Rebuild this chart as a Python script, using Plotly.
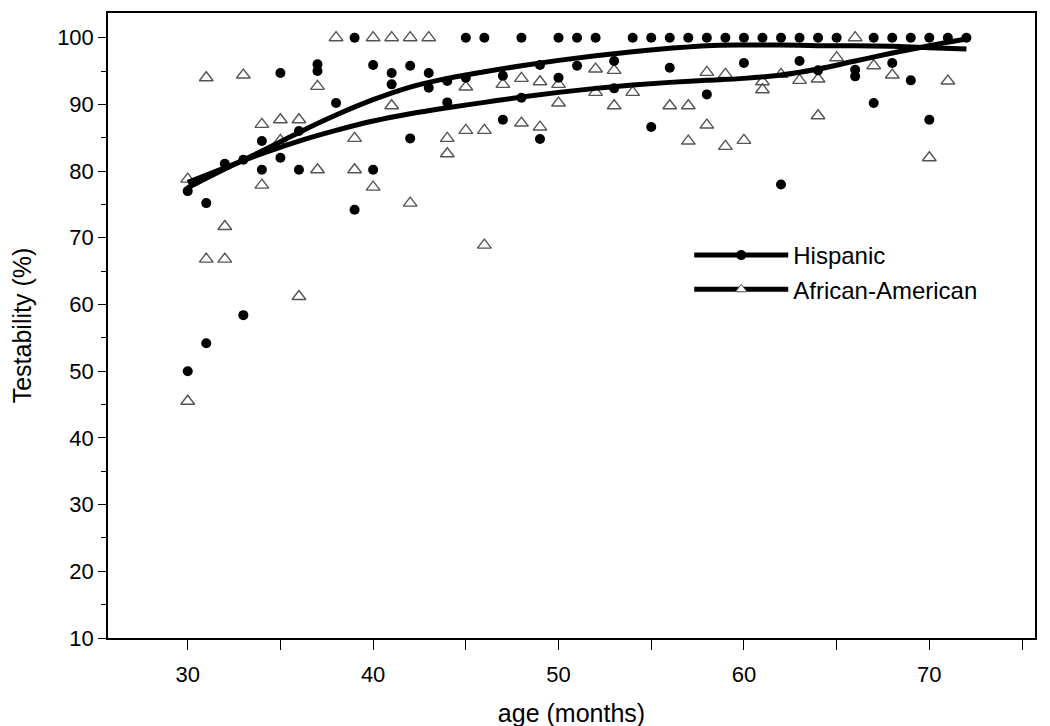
import plotly.graph_objects as go

# ---- Data ----
# Hispanic individual points (age in months, testability %)
hisp_age = [30, 30, 31, 31, 32, 33, 33, 34, 34, 35, 35, 36, 36, 37, 37, 38, 39, 39,
            40, 40, 41, 41, 42, 42, 43, 43, 44, 44, 45, 45, 46, 47, 47, 48, 48, 49, 49,
            50, 50, 51, 51, 52, 53, 53, 54, 55, 55, 56, 56, 57, 58, 58, 59, 60, 60,
            61, 62, 62, 63, 63, 64, 64, 65, 66, 66, 67, 67, 68, 68, 69, 69, 70, 70,
            71, 72]
hisp_val = [77.0, 50.0, 75.2, 54.2, 81.1, 81.7, 58.4, 84.5, 80.2, 94.7, 82.0, 86.0, 80.2,
            96.0, 95.0, 90.2, 100, 74.2, 95.9, 80.2, 94.7, 93.0, 95.8, 84.9, 94.7, 92.5,
            93.5, 90.3, 100, 94.0, 100, 94.3, 87.7, 100, 91.0, 95.9, 84.8, 100, 94.0,
            100, 95.8, 100, 96.5, 92.4, 100, 100, 86.6, 100, 95.5, 100, 100, 91.5, 100,
            100, 96.2, 100, 100, 78.0, 100, 96.5, 100, 95.1, 100, 95.2, 94.2, 100, 90.2,
            100, 96.2, 100, 93.6, 100, 87.7, 100, 100]

# African-American individual points
aa_age = [30, 30, 31, 31, 32, 32, 33, 34, 34, 35, 35, 36, 36, 37, 37, 38, 39, 39,
          40, 40, 41, 41, 42, 42, 43, 44, 44, 45, 45, 46, 46, 47, 48, 48, 49, 49,
          50, 50, 52, 52, 53, 53, 54, 56, 57, 57, 58, 58, 59, 59, 60, 61, 61, 62,
          63, 64, 64, 65, 66, 67, 68, 70, 71]
aa_val = [78.8, 45.5, 94.0, 66.8, 71.7, 66.8, 94.4, 87.0, 77.9, 87.7, 84.6, 87.7, 61.2,
          92.7, 80.2, 100, 84.9, 80.2, 100, 77.6, 100, 89.8, 100, 75.2, 100, 84.9, 82.6,
          92.6, 86.1, 86.1, 68.9, 93.0, 93.9, 87.2, 93.4, 86.6, 93.0, 90.2, 95.3, 91.8,
          95.1, 89.8, 91.8, 89.8, 89.8, 84.5, 94.8, 86.9, 94.5, 83.7, 84.6, 93.4, 92.2,
          94.5, 93.6, 93.8, 88.3, 97.0, 100, 95.8, 94.4, 82.0, 93.5]

# Smoothed trend curves
fit_age = [30, 32, 34, 36, 38, 40, 42, 44, 46, 48, 50, 52, 54, 56, 58, 60, 62, 64,
           66, 68, 70, 72]
hisp_fit = [77.5, 80.3, 83.0, 85.8, 88.4, 90.7, 92.6, 93.9, 94.9, 95.8, 96.6, 97.3,
            97.9, 98.4, 98.8, 98.9, 98.9, 98.8, 98.8, 98.7, 98.5, 98.3]
aa_fit = [78.3, 80.5, 82.6, 84.5, 86.1, 87.5, 88.6, 89.5, 90.3, 91.1, 91.8, 92.4,
          92.9, 93.3, 93.6, 93.9, 94.4, 95.3, 96.5, 97.7, 98.8, 99.8]

series_names = ["Hispanic", "African-American"]
x_ticks = [30, 40, 50, 60, 70]
y_ticks = [10, 20, 30, 40, 50, 60, 70, 80, 90, 100]

FONT = "Liberation Sans, Arial, sans-serif"

fig = go.Figure()

# scatter points
fig.add_trace(go.Scatter(x=aa_age, y=aa_val, mode="markers", showlegend=False,
                         marker=dict(symbol="triangle-up-open", size=12,
                                     color="#555555", line=dict(width=1.4))))
fig.add_trace(go.Scatter(x=hisp_age, y=hisp_val, mode="markers", showlegend=False,
                         marker=dict(symbol="circle", size=10, color="black")))

# trend curves
fig.add_trace(go.Scatter(x=fit_age, y=aa_fit, mode="lines", showlegend=False,
                         line=dict(color="black", width=5, shape="spline")))
fig.add_trace(go.Scatter(x=fit_age, y=hisp_fit, mode="lines", showlegend=False,
                         line=dict(color="black", width=5, shape="spline")))

# legend entries
fig.add_trace(go.Scatter(x=[None], y=[None], mode="lines+markers", name=series_names[0],
                         line=dict(color="black", width=5),
                         marker=dict(symbol="circle", size=10, color="black")))
fig.add_trace(go.Scatter(x=[None], y=[None], mode="lines+markers", name=series_names[1],
                         line=dict(color="black", width=5),
                         marker=dict(symbol="triangle-up", size=10, color="white",
                                     line=dict(color="#555555", width=1))))

axis_common = dict(showline=True, linecolor="black", linewidth=1.5, mirror=True,
                   ticks="outside", tickcolor="black", showgrid=False, automargin=False,
                   zeroline=False, tickfont=dict(size=22, color="black", family=FONT))

fig.update_xaxes(range=[25.7, 75.7], tickvals=x_ticks, ticklen=10, ticklabelstandoff=6,
                 minor=dict(dtick=5, tick0=0, ticks="outside", ticklen=10, tickcolor="black"),
                 title=dict(text="age (months)", font=dict(size=25, color="black", family=FONT),
                            standoff=18),
                 **axis_common)
fig.update_yaxes(range=[10, 103.7], tickvals=y_ticks, ticklen=8,
                 minor=dict(dtick=5, tick0=0, ticks="outside", ticklen=5, tickcolor="black"),
                 title=dict(text="Testability (%)", font=dict(size=25, color="black", family=FONT),
                            standoff=36),
                 **axis_common)

fig.update_layout(
    width=1050, height=726,
    margin=dict(l=100, r=23, t=5, b=96, autoexpand=False),
    paper_bgcolor="white", plot_bgcolor="white",
    font=dict(family=FONT, color="black"),
    legend=dict(x=0.627, y=0.648, xanchor="left", yanchor="top",
                bgcolor="rgba(0,0,0,0)", font=dict(size=24, family=FONT),
                itemwidth=94, tracegroupgap=0),
)

fig.write_html("out.html")
